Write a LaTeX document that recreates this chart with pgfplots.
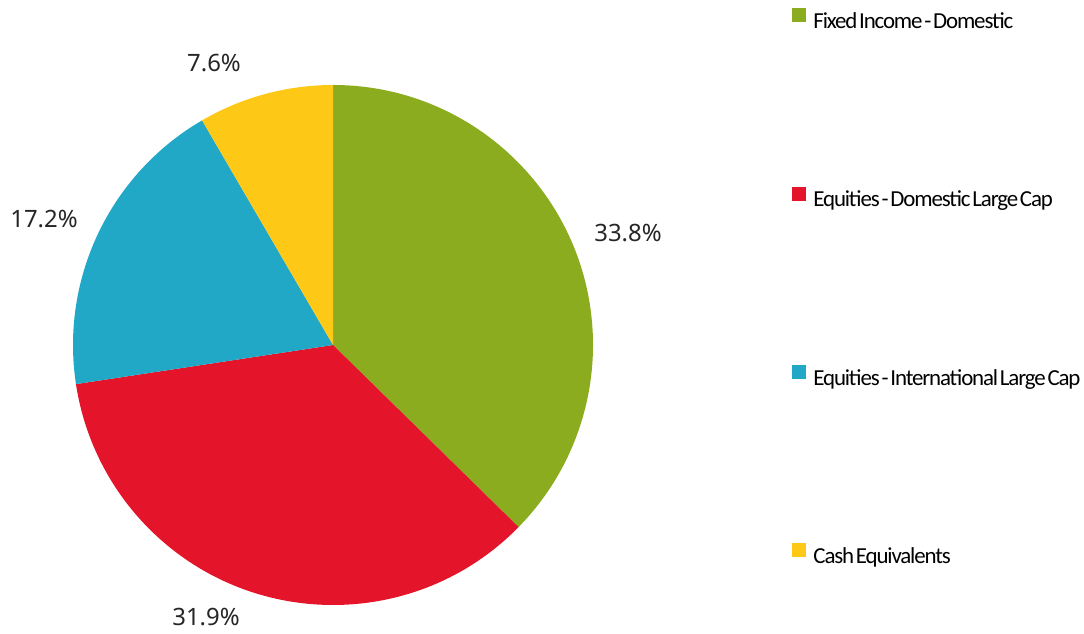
\documentclass[border=0pt]{standalone}
\usepackage{pgfplots}
\pgfplotsset{compat=1.18}
\usepackage{fontspec}
\setmainfont{Noto Sans}
\newfontfamily\legfont[LetterSpace=-5, WordSpace=0.45]{Carlito}
\definecolor{cgreen}{RGB}{140,172,32}
\definecolor{cred}{RGB}{228,20,42}
\definecolor{cblue}{RGB}{32,168,198}
\definecolor{cyellow}{RGB}{254,200,22}
\begin{document}
\begin{tikzpicture}
\def\cx{333}\def\cy{289}
\xdef\total{0}
\foreach \v in {33.8,31.9,17.2,7.6}{\pgfmathsetmacro{\t}{\total+\v}\xdef\total{\t}}
\begin{axis}[
  at={(0,0)}, anchor=south west,
  width=1084bp, height=634bp, scale only axis,
  xmin=0, xmax=1084, ymin=0, ymax=634,
  hide axis, clip=false,
  legend cell align=left,
  legend style={draw=none, fill=none, inner sep=0pt, outer sep=0pt,
    at={(axis cs:792,625.5)}, anchor=north west,
    row sep=153bp, column sep=8bp,
    nodes={inner sep=0pt, outer sep=0pt, text height=17bp, text depth=5bp, font=\legfont\fontsize{23}{27}\selectfont}},
  legend image code/.code={\fill[#1] (0bp,1bp) rectangle (13bp,14bp);},
]
\xdef\startang{90}
\foreach \v/\c in {33.8/cgreen, 31.9/cred, 17.2/cblue, 7.6/cyellow}{
  \pgfmathsetmacro{\endang}{\startang-\v/\total*360}
  \edef\temp{\noexpand\fill[\c] (axis cs:\cx,\cy) -- ++(\startang:260bp) arc[start angle=\startang, end angle=\endang, radius=260bp] -- cycle;}
  \temp
  \xdef\startang{\endang}
}
\addlegendimage{cgreen}\addlegendentry{Fixed Income - Domestic}
\addlegendimage{cred}\addlegendentry{Equities - Domestic Large Cap}
\addlegendimage{cblue}\addlegendentry{Equities - International Large Cap}
\addlegendimage{cyellow}\addlegendentry{Cash Equivalents}
\begin{scope}[every node/.style={font=\fontsize{24}{28}\selectfont, text=black!85, anchor=base, inner sep=0pt}]
\node at (axis cs:628,392) {33.8\%};
\node at (axis cs:206,8) {31.9\%};
\node at (axis cs:44,406) {17.2\%};
\node at (axis cs:214,562) {7.6\%};
\end{scope}
\end{axis}
\pgfresetboundingbox
\path[use as bounding box] (0,0) rectangle (1084bp,634bp);
\end{tikzpicture}
\end{document}
